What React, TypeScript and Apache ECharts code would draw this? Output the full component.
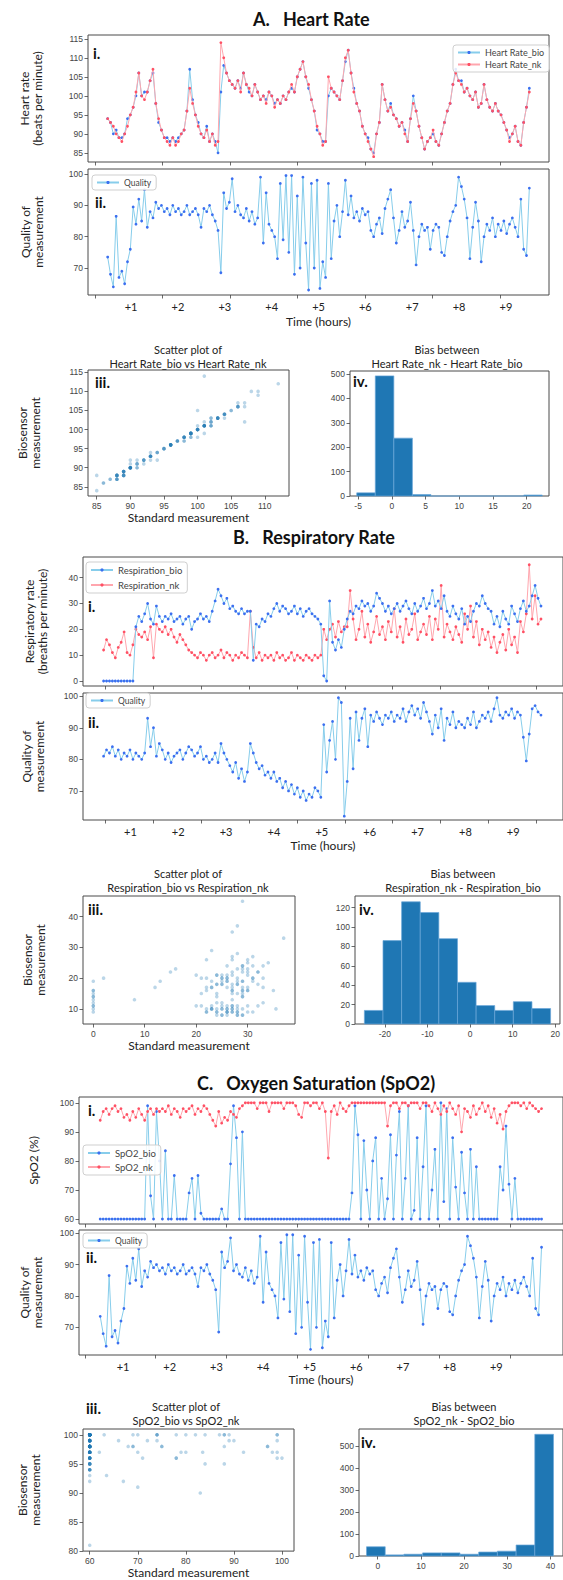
import React, { useEffect, useRef } from 'react';
import * as echarts from 'echarts';

// ---------------- DATA ----------------
// A. Heart rate, sampled uniformly between hour 0.5 and 9.5
const hrSpan = [0.5, 9.5];
const hrNk = [
  94, 93, 92, 90, 89, 88, 90, 92, 95, 97,
  101, 106, 100, 99, 101, 104, 107, 98, 94, 91,
  89, 88, 87, 89, 87, 88, 90, 91, 96, 102,
  98, 95, 92, 90, 89, 91, 88, 90, 87, 88,
  114, 110, 106, 104, 103, 102, 104, 101, 106, 103,
  102, 100, 103, 101, 99, 100, 98, 101, 100, 97,
  99, 98, 100, 99, 101, 103, 101, 105, 107, 109,
  105, 103, 99, 96, 92, 90, 87, 88, 105, 102,
  101, 100, 99, 104, 110, 112, 106, 101, 98, 96,
  92, 90, 88, 86, 84, 90, 93, 103, 99, 96,
  97, 95, 94, 92, 93, 90, 88, 94, 98, 96,
  92, 89, 86, 88, 89, 91, 88, 87, 90, 93,
  96, 98, 103, 106, 104, 103, 101, 102, 100, 99,
  101, 97, 98, 103, 99, 97, 96, 98, 96, 95,
  93, 91, 88, 90, 92, 88, 87, 93, 97, 101,
];
const hrBio = [
  94, 93, 90, 91, 89, 89, 90, 94, 95, 97,
  100, 106, 100, 101, 101, 104, 106, 98, 93, 91,
  89, 89, 88, 89, 88, 89, 90, 91, 96, 107,
  99, 95, 93, 90, 89, 92, 88, 90, 88, 85,
  101, 108, 106, 104, 103, 102, 104, 102, 106, 103,
  101, 100, 103, 101, 99, 100, 99, 101, 100, 98,
  99, 98, 100, 99, 101, 102, 101, 105, 107, 109,
  105, 102, 99, 96, 91, 90, 88, 88, 100, 102,
  101, 100, 99, 104, 109, 112, 106, 102, 98, 96,
  92, 90, 89, 86, 85, 90, 93, 103, 99, 96,
  98, 95, 94, 92, 93, 91, 88, 94, 100, 96,
  92, 89, 86, 88, 89, 90, 88, 87, 90, 93,
  96, 98, 103, 107, 104, 104, 101, 102, 100, 99,
  101, 97, 98, 103, 99, 97, 96, 98, 96, 95,
  93, 91, 89, 90, 92, 88, 87, 93, 97, 102,
];
// quality of the HR / SpO2 measurement (same trace appears in A.ii and C.ii)
const qualityHR = [
  73.5, 68, 64, 86.5, 67, 69, 65, 72, 76, 89.5,
  84, 92, 85, 95, 83, 88, 86, 91, 89, 90,
  88, 89, 87, 90, 88, 89, 87, 88, 90, 87,
  88, 89, 87, 83, 89, 88, 90, 87, 85, 82,
  68.5, 94, 89, 91, 98.5, 88, 90, 87, 86, 89,
  85, 88, 84, 86, 99, 78, 94, 84, 82, 80,
  73, 97, 79, 99.5, 75, 99.5, 68, 93, 70, 99,
  78, 63, 97, 70, 98, 63.5, 72, 67, 97, 73,
  85, 90, 80, 88, 98, 87, 93, 86, 88, 85,
  89, 87, 88, 82, 80, 84, 86, 81, 89, 92,
  95, 86, 78, 82, 88, 83, 85, 91, 82, 71,
  80, 84, 82, 83, 76, 82, 84, 83, 75, 74,
  80, 85, 88, 90, 99, 96, 92, 86, 73, 83,
  91, 85, 72, 80, 84, 82, 86, 80, 84, 82,
  85, 81, 84, 86, 83, 80, 92, 76, 74, 95.5,
];

// B. Respiratory rate, sampled between hour 0.44 and 9.58
const respSpan = [0.44, 9.58];
const respBio = [
  0, 0, 0, 0, 0, 0, 0, 0, 0, 0,
  0, 21, 25, 23, 26, 30, 24, 22, 29, 25,
  23, 25, 24, 26, 23, 24, 25, 22, 24, 25,
  20, 23, 24, 26, 24, 25, 23, 27, 31, 35.5,
  33, 30, 32, 28, 29, 27, 26, 28, 26, 27,
  27, 8, 22, 21, 24, 23, 26, 25, 28, 30,
  27, 29, 28, 26, 27, 29, 26, 28, 25, 27,
  28, 26, 25, 24, 22, 2, 0, 31, 15, 12,
  16, 13, 20, 24, 27, 26, 29, 28, 31, 29,
  30, 27, 29, 34, 32, 30, 27, 29, 26, 28,
  30, 27, 29, 31, 28, 26, 30, 27, 29, 32,
  28, 30, 35, 29, 31, 28, 33, 27, 25, 29,
  26, 24, 28, 22, 25, 23, 27, 30, 29, 33,
  30, 28, 27, 22, 25, 21, 27, 24, 22, 29,
  26, 23, 28, 31, 27, 29, 33, 37, 32, 29,
];
const respNk = [
  12, 16, 14, 11, 9, 13, 15, 19, 11, 10,
  14, 20, 18, 17, 19, 16, 21, 9, 22, 20,
  19, 21, 18, 20, 17, 15, 18, 16, 14, 12,
  11, 10, 9, 11, 10, 8, 10, 11, 9, 10,
  12, 9, 11, 10, 8, 10, 9, 11, 10, 9,
  27, 13, 9, 11, 8, 10, 9, 10, 8, 11,
  9, 10, 8, 9, 11, 8, 10, 9, 8, 10,
  9, 8, 10, 9, 10, 20, 16, 20, 22, 17,
  23, 19, 21, 21, 35, 24, 16, 20, 27, 17,
  22, 15, 19, 25, 18, 21, 16, 23, 19, 28,
  17, 21, 15, 24, 18, 20, 26, 16, 19, 22,
  18, 25, 16, 24, 20, 37, 17, 22, 19, 16,
  21, 18, 15, 26, 20, 29, 17, 23, 14, 20,
  16, 19, 13, 17, 11, 15, 18, 12, 20, 14,
  17, 11, 23, 19, 26, 45, 24, 33, 22, 24,
];
const qualityResp = [
  81, 83, 82, 84, 81, 83, 80, 82, 81, 83,
  80, 82, 81, 80, 82, 93, 84, 90, 81, 85,
  83, 80, 82, 79, 81, 82, 83, 80, 82, 84,
  83, 81, 82, 84, 80, 81, 79, 80, 82, 79,
  85, 82, 80, 78, 76, 79, 74, 77, 73, 76,
  85, 82, 79, 77, 78, 75, 76, 74, 76, 73,
  74, 71, 73, 70, 72, 69, 71, 68, 70, 67,
  69, 68, 71, 70, 68, 91, 76, 86, 92, 80,
  99.5, 98, 62, 73, 93, 77, 95, 86, 93, 96,
  84, 94, 92, 95, 93, 91, 94, 93, 95, 92,
  94, 93, 96, 92, 95, 97, 94, 96, 93, 98,
  95, 92, 88, 94, 90, 96, 86, 93, 91, 95,
  90, 92, 91, 90, 93, 91, 95, 90, 92, 94,
  93, 95, 92, 96, 99.5, 94, 93, 95, 94, 96,
  93, 95, 94, 87, 79.5, 88, 96, 97, 95, 94,
];

// C. Oxygen saturation, sampled between hour 0.51 and 9.97
const spo2Span = [0.51, 9.97];
const spo2Nk = [
  94, 97, 98, 96, 98, 99, 97, 98, 95, 96,
  94, 97, 95, 98, 96, 94, 97, 98, 96, 98,
  97, 98, 97, 99, 96, 98, 97, 95, 98, 97,
  98, 99, 96, 98, 97, 99, 98, 96, 94, 92,
  97, 93, 95, 94, 97, 96, 95, 98, 99, 100,
  100, 100, 100, 98, 100, 100, 100, 97, 100, 100,
  100, 100, 98, 100, 100, 100, 99, 96, 95, 100,
  100, 99, 100, 100, 98, 100, 97, 81, 97, 99,
  96, 100, 98, 97, 99, 100, 100, 100, 100, 100,
  100, 100, 100, 100, 100, 100, 100, 92, 99, 100,
  100, 98, 100, 100, 99, 100, 100, 100, 98, 100,
  100, 99, 97, 100, 98, 96, 99, 97, 100, 98,
  96, 99, 90, 98, 97, 95, 99, 96, 98, 100,
  97, 99, 95, 98, 93, 96, 91, 97, 99, 100,
  100, 100, 99, 100, 98, 100, 99, 98, 97, 98,
];
const spo2Bio = [
  60, 60, 60, 60, 60, 60, 60, 60, 60, 60,
  60, 60, 60, 60, 60, 60, 99, 68, 60, 97,
  80, 60, 83.5, 60, 60, 75, 60, 60, 60, 60,
  69, 74, 60, 75, 62, 60, 60, 60, 60, 60,
  60, 63.5, 60, 60, 79, 99, 88, 60, 90, 60,
  60, 60, 60, 60, 60, 60, 60, 60, 60, 60,
  60, 60, 60, 60, 60, 60, 60, 60, 60, 60,
  60, 60, 60, 60, 60, 60, 60, 60, 60, 60,
  60, 60, 60, 60, 60, 69, 99, 89, 60, 87,
  70, 60, 80, 88, 60, 74, 60, 67, 89, 60,
  82, 97, 60, 74, 99, 60, 63, 88, 60, 78,
  99, 60, 70, 84, 60, 100, 66, 98, 60, 88,
  71, 60, 83, 69, 60, 84, 60, 78, 60, 60,
  60, 60, 60, 60, 60, 78, 70, 92, 72, 60,
  74, 60, 60, 60, 60, 60, 60, 60, 60, 60,
];

// histograms of the bias (nk - bio): bin edges and counts
const hrBiasEdges = [-5.2, -2.45, 0.3, 3.05, 5.8, 8.55, 11.3, 14.05, 16.8, 19.55, 22.3];
const hrBiasCounts = [13, 492, 237, 6, 0, 0, 0, 0, 0, 4];
const respBiasEdges = [-24.8, -20.43, -16.06, -11.69, -7.32, -2.95, 1.42, 5.79, 10.16, 14.53, 18.9];
const respBiasCounts = [14, 86, 126, 115, 88, 43, 19, 14, 23, 16];
const spo2BiasEdges = [-2.6, 1.73, 6.06, 10.39, 14.72, 19.05, 23.38, 27.71, 32.04, 36.37, 40.7];
const spo2BiasCounts = [42, 5, 8, 14, 14, 8, 18, 22, 50, 553];

// tick labels / tick positions
const hourLabels = [1, 2, 3, 4, 5, 6, 7, 8, 9];
const hrTimeTicks = [0.23, 1.67, 3.11, 4.55, 5.99, 7.43, 8.87];
const respTimeTicks = [0.48, 1.48, 2.48, 3.48, 4.48, 5.48, 6.48, 7.48, 8.48, 9.48];
const spo2TimeTicks = [0.18, 1.7, 3.22, 4.74, 6.26, 7.78, 9.3];
const hrTicks = [85, 90, 95, 100, 105, 110, 115];
const hrScatterXTicks = [85, 90, 95, 100, 105, 110];
const qualityTicks = [70, 80, 90, 100];
const hrBiasXTicks = [-5, 0, 5, 10, 15, 20];
const hrBiasYTicks = [0, 100, 200, 300, 400, 500];
const respTicks = [0, 10, 20, 30, 40];
const respScatterXTicks = [0, 10, 20, 30];
const respScatterYTicks = [10, 20, 30, 40];
const respBiasXTicks = [-20, -10, 0, 10, 20];
const respBiasYTicks = [0, 20, 40, 60, 80, 100, 120];
const spo2Ticks = [60, 70, 80, 90, 100];
const spo2ScatterYTicks = [80, 85, 90, 95, 100];
const spo2BiasXTicks = [0, 10, 20, 30, 40];
const spo2BiasYTicks = [0, 100, 200, 300, 400, 500];

// ---------------- STYLE ----------------
const FONT = 'Lato, "Open Sans", sans-serif';
const TICKFONT = '"Liberation Sans", Arial, sans-serif';
const BIO_LINE = '#87cdeb';
const BIO_DOT = '#3b6ff0';
const NK_LINE = '#ffa6ae';
const NK_DOT = '#ff5064';
const HIST = '#1f77b4';

function withTime(values: number[], span: number[]) {
  const n = values.length;
  return values.map((v, i) => [span[0] + (i * (span[1] - span[0])) / (n - 1), v]);
}
function pairs(xs: number[], ys: number[]) {
  return xs.map((x, i) => [x, ys[i]]);
}
function bins(edges: number[], counts: number[]) {
  return counts.map((c, i) => [edges[i], edges[i + 1], c]);
}

function grid(left: number, top: number, width: number, height: number) {
  return { left, top, width, height, show: true, borderColor: '#4a4a4a', borderWidth: 1, backgroundColor: 'transparent' };
}

function axis(gridIndex: number, min: number, max: number, ticks: number[], labels: number[] | null, extra: any = {}) {
  return {
    type: 'value',
    gridIndex,
    min,
    max,
    splitLine: { show: false },
    axisLine: { show: false, onZero: false },
    axisTick: { show: true, length: 3.5, lineStyle: { color: '#444', width: 0.8 }, customValues: ticks },
    axisLabel: {
      show: labels !== null,
      customValues: labels === null ? ticks : labels,
      fontSize: 8.5,
      fontFamily: TICKFONT,
      color: '#444',
      margin: 5,
    },
    nameTextStyle: { fontFamily: FONT, fontSize: 12, color: '#222', lineHeight: 13 },
    ...extra,
  };
}

function yName(name: string, gap: number) {
  return { name, nameLocation: 'middle', nameRotate: 90, nameGap: gap };
}
function xName(name: string, gap: number) {
  return { name, nameLocation: 'middle', nameGap: gap };
}

const hourLabelStyle = {
  show: true,
  customValues: hourLabels,
  formatter: (v: number) => '+' + v,
  fontSize: 11,
  fontFamily: FONT,
  color: '#222',
  margin: 6,
};

function lineSeries(name: string, data: number[][], idx: number, line: string, dot: string, z: number) {
  return {
    type: 'line',
    name,
    xAxisIndex: idx,
    yAxisIndex: idx,
    data,
    symbol: 'circle',
    symbolSize: 2.8,
    showSymbol: true,
    showAllSymbol: true,
    lineStyle: { color: line, width: 1 },
    itemStyle: { color: dot },
    emphasis: { disabled: true },
    z,
  };
}
function scatterSeries(data: number[][], idx: number) {
  return {
    type: 'scatter',
    xAxisIndex: idx,
    yAxisIndex: idx,
    data,
    symbolSize: 3.6,
    itemStyle: { color: HIST, opacity: 0.3 },
    emphasis: { disabled: true },
  };
}
function histSeries(data: number[][], idx: number) {
  return {
    type: 'custom',
    xAxisIndex: idx,
    yAxisIndex: idx,
    data,
    encode: { x: [0, 1], y: 2 },
    renderItem: (_p: any, api: any) => {
      const a = api.coord([api.value(0), api.value(2)]);
      const b = api.coord([api.value(1), 0]);
      return {
        type: 'rect',
        shape: { x: a[0], y: a[1], width: b[0] - a[0], height: b[1] - a[1] },
        style: { fill: HIST, stroke: '#6aa6d8', lineWidth: 0.7 },
      };
    },
  };
}
function legend(names: string[], left: number, top: number, fontSize: number, itemGap: number) {
  return {
    data: names,
    left,
    top,
    orient: 'vertical',
    itemWidth: 22,
    itemHeight: 4,
    itemGap,
    padding: [3, 5, 3, 4],
    backgroundColor: 'rgba(255,255,255,0.85)',
    borderColor: '#cfcfcf',
    borderWidth: 1,
    borderRadius: 3,
    selectedMode: false,
    textStyle: { fontFamily: FONT, fontSize, color: '#444' },
  };
}
function text(t: string, x: number, y: number, size: number, bold: boolean, align = 'center', lineHeight = 14) {
  return {
    type: 'text',
    x,
    y,
    z: 100,
    style: {
      text: t,
      fontSize: size,
      fontWeight: bold ? 'bold' : 'normal',
      fontFamily: FONT,
      fill: bold ? '#111' : '#222',
      align,
      verticalAlign: 'middle',
      lineHeight,
    },
  };
}

function buildOption() {
  const grids = [
    grid(88, 35, 461, 127),
    grid(88, 169, 461, 126),
    grid(88, 370, 201, 126),
    grid(350, 371, 199, 125),
    grid(83, 557, 487, 129),
    grid(83, 693, 487, 127),
    grid(83, 896, 212, 128),
    grid(355, 896, 213, 128),
    grid(79, 1097, 494, 127),
    grid(79, 1230, 494, 125),
    grid(83, 1429, 211, 127),
    grid(359, 1429, 215, 127),
  ];
  const xAxes = [
    axis(0, 0.08, 9.92, hrTimeTicks, null),
    axis(1, 0.08, 9.92, hrTimeTicks, hourLabels, { axisLabel: hourLabelStyle, ...xName('Time (hours)', 20) }),
    axis(2, 83.7, 113.6, hrScatterXTicks, hrScatterXTicks, xName('Standard measurement', 15)),
    axis(3, -6.2, 23.3, hrBiasXTicks, hrBiasXTicks),
    axis(4, 0.01, 10.04, respTimeTicks, null),
    axis(5, 0.01, 10.04, respTimeTicks, hourLabels, { axisLabel: hourLabelStyle, ...xName('Time (hours)', 19) }),
    axis(6, -2, 39.2, respScatterXTicks, respScatterXTicks, xName('Standard measurement', 3)),
    axis(7, -27, 21.1, respBiasXTicks, respBiasXTicks),
    axis(8, 0.055, 10.43, spo2TimeTicks, null),
    axis(9, 0.055, 10.43, spo2TimeTicks, hourLabels, { axisLabel: hourLabelStyle, ...xName('Time (hours)', 18) }),
    axis(10, 58.6, 102.5, spo2Ticks, spo2Ticks, xName('Standard measurement', 13)),
    axis(11, -4.34, 42.9, spo2BiasXTicks, spo2BiasXTicks),
  ];
  const yAxes = [
    axis(0, 82.6, 116, hrTicks, hrTicks, yName('Heart rate\n(beats per minute)', 44)),
    axis(1, 61.4, 101.6, qualityTicks, qualityTicks, yName('Quality of\nmeasurement', 43)),
    axis(2, 82.6, 115.6, hrTicks, hrTicks, yName('Biosensor\nmeasurement', 46)),
    axis(3, 0, 512, hrBiasYTicks, hrBiasYTicks),
    axis(4, -1.94, 48, respTicks, respTicks, yName('Respiratory rate\n(breaths per minute)', 34)),
    axis(5, 60.8, 101, qualityTicks, qualityTicks, yName('Quality of\nmeasurement', 37)),
    axis(6, 5.1, 46.7, respScatterYTicks, respScatterYTicks, yName('Biosensor\nmeasurement', 36)),
    axis(7, 0, 132, respBiasYTicks, respBiasYTicks),
    axis(8, 58.3, 102, spo2Ticks, spo2Ticks, yName('SpO2 (%)', 39)),
    axis(9, 61.2, 101, qualityTicks, qualityTicks, yName('Quality of\nmeasurement', 35)),
    axis(10, 80, 101, spo2ScatterYTicks, spo2ScatterYTicks, yName('Biosensor\nmeasurement', 41)),
    axis(11, 0, 577, spo2BiasYTicks, spo2BiasYTicks),
  ];

  const series = [
    lineSeries('Heart Rate_bio', withTime(hrBio, hrSpan), 0, BIO_LINE, BIO_DOT, 2),
    lineSeries('Heart Rate_nk', withTime(hrNk, hrSpan), 0, NK_LINE, NK_DOT, 3),
    lineSeries('Quality', withTime(qualityHR, hrSpan), 1, BIO_LINE, BIO_DOT, 2),
    scatterSeries(pairs(hrBio, hrNk), 2),
    histSeries(bins(hrBiasEdges, hrBiasCounts), 3),
    lineSeries('Respiration_bio', withTime(respBio, respSpan), 4, BIO_LINE, BIO_DOT, 3),
    lineSeries('Respiration_nk', withTime(respNk, respSpan), 4, NK_LINE, NK_DOT, 2),
    lineSeries('Quality', withTime(qualityResp, respSpan), 5, BIO_LINE, BIO_DOT, 2),
    scatterSeries(pairs(respBio, respNk), 6),
    histSeries(bins(respBiasEdges, respBiasCounts), 7),
    lineSeries('SpO2_bio', withTime(spo2Bio, spo2Span), 8, BIO_LINE, BIO_DOT, 2),
    lineSeries('SpO2_nk', withTime(spo2Nk, spo2Span), 8, NK_LINE, NK_DOT, 3),
    lineSeries('Quality', withTime(qualityHR, spo2Span), 9, BIO_LINE, BIO_DOT, 2),
    scatterSeries(pairs(spo2Bio, spo2Nk), 10),
    histSeries(bins(spo2BiasEdges, spo2BiasCounts), 11),
  ];

  const legends = [
    legend(['Heart Rate_bio', 'Heart Rate_nk'], 453, 45, 9, 3),
    legend(['Quality'], 92, 175, 8.5, 2),
    legend(['Respiration_bio', 'Respiration_nk'], 86, 562, 9.5, 5),
    legend(['Quality'], 86, 693, 8.5, 2),
    legend(['SpO2_bio', 'SpO2_nk'], 83, 1145, 9.5, 4),
    legend(['Quality'], 83, 1233, 8.5, 2),
  ];

  const graphic = [
    text('A.   Heart Rate', 253, 19, 18, true, 'left'),
    text('B.   Respiratory Rate', 233, 537, 18, true, 'left'),
    text('C.   Oxygen Saturation (SpO2)', 197, 1083, 18, true, 'left'),
    text('i.', 93, 53, 15, true, 'left'),
    text('ii.', 95, 202, 15, true, 'left'),
    text('iii.', 95, 382, 15, true, 'left'),
    text('iv.', 353, 381, 15, true, 'left'),
    text('i.', 88, 606, 15, true, 'left'),
    text('ii.', 88, 722, 15, true, 'left'),
    text('iii.', 88, 909, 15, true, 'left'),
    text('iv.', 359, 909, 15, true, 'left'),
    text('i.', 88, 1110, 15, true, 'left'),
    text('ii.', 86, 1257, 15, true, 'left'),
    text('iii.', 86, 1408, 15, true, 'left'),
    text('iv.', 361, 1442, 15, true, 'left'),
    text('Scatter plot of\nHeart Rate_bio vs Heart Rate_nk', 188, 356, 11, false),
    text('Bias between\nHeart Rate_nk - Heart Rate_bio', 447, 356, 11, false),
    text('Scatter plot of\nRespiration_bio vs Respiration_nk', 188, 880, 11, false),
    text('Bias between\nRespiration_nk - Respiration_bio', 463, 880, 11, false),
    text('Scatter plot of\nSpO2_bio vs SpO2_nk', 186, 1413, 11, false),
    text('Bias between\nSpO2_nk - SpO2_bio', 464, 1413, 11, false),
  ];

  return {
    animation: false,
    backgroundColor: '#fff',
    grid: grids,
    xAxis: xAxes,
    yAxis: yAxes,
    series,
    legend: legends,
    graphic,
  };
}

export default function App() {
  const ref = useRef<HTMLDivElement>(null);
  useEffect(() => {
    if (!ref.current) return;
    const chart = echarts.init(ref.current, null, { renderer: 'svg' });
    chart.setOption(buildOption() as any);
    return () => chart.dispose();
  }, []);
  return (
    <div
      ref={ref}
      style={{ position: 'absolute', left: 0, top: 0, width: 563, height: 1580, background: '#fff' }}
    />
  );
}
